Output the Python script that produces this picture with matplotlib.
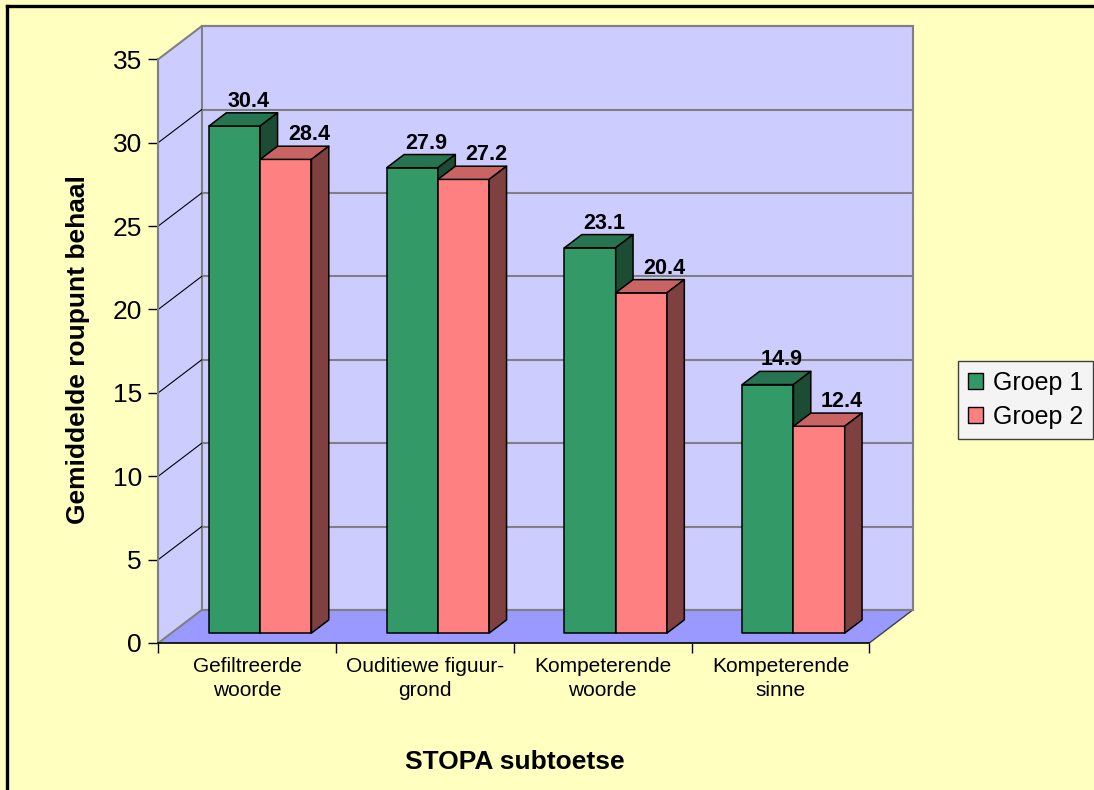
import numpy as np
import matplotlib
matplotlib.use("Agg")
import matplotlib.pyplot as plt
from matplotlib.patches import Polygon, Patch
from matplotlib.lines import Line2D

plt.rcParams["font.family"] = ["Liberation Sans", "DejaVu Sans"]

# data
categories = ["Gefiltreerde\nwoorde", "Ouditiewe figuur-\ngrond",
              "Kompeterende\nwoorde", "Kompeterende\nsinne"]
groep1 = [30.4, 27.9, 23.1, 14.9]
groep2 = [28.4, 27.2, 20.4, 12.4]
series_names = ["Groep 1", "Groep 2"]
y_ticks = [0, 5, 10, 15, 20, 25, 30, 35]
y_max = 35
x_title = "STOPA subtoetse"
y_title = "Gemiddelde roupunt behaal"

# colours: front, top, side
front_cols = ["#339966", "#FF8080"]
top_cols = ["#277550", "#C86464"]
side_cols = ["#1C4C33", "#7F4040"]
BG = "#FFFFC0"
WALL = "#CCCCFF"
FLOOR = "#9999FF"
GRID = "#808080"

W_PX, H_PX = 1094, 790
SX = 177.75            # px per category
SY = 16.68             # px per value unit
DX = 43.4 / SX         # depth offset in category units
DY = 33.0 / SY         # depth offset in value units
Z0, Z1 = 0.3, 0.7      # bar front / back depth fraction
BW = 51.25 / SX        # single bar width

n = len(categories)

fig = plt.figure(figsize=(W_PX / 100, H_PX / 100), dpi=100, facecolor=BG)
ax = fig.add_axes([158.3 / W_PX, (H_PX - 643) / H_PX,
                   (n + DX) * SX / W_PX, (y_max + DY) * SY / H_PX])
ax.set_xlim(0, n + DX)
ax.set_ylim(0, y_max + DY)
ax.patch.set_alpha(0)


def proj(x, v, z):
    return (x + z * DX, v + z * DY)


# walls and floor
side = Polygon([proj(0, 0, 0), proj(0, 0, 1), proj(0, y_max, 1), proj(0, y_max, 0)],
               closed=True, fc=WALL, ec="none", zorder=1)
back = Polygon([proj(0, 0, 1), proj(n, 0, 1), proj(n, y_max, 1), proj(0, y_max, 1)],
               closed=True, fc=WALL, ec=GRID, lw=1.5, zorder=1, clip_on=False)
floor = Polygon([proj(0, 0, 0), proj(n, 0, 0), proj(n, 0, 1), proj(0, 0, 1)],
                closed=True, fc=FLOOR, ec="none", zorder=1)
for p in (side, back, floor):
    ax.add_patch(p)

# grid lines on back wall and side wall
for v in y_ticks[1:]:
    a, b = proj(0, v, 1), proj(n, v, 1)
    ax.plot([a[0], b[0]], [a[1], b[1]], color=GRID, lw=1.5, zorder=2, clip_on=False)
    c = proj(0, v, 0)
    ax.plot([c[0], a[0]], [c[1], a[1]], color="black" if v < y_max else GRID,
            lw=0.8 if v < y_max else 1.5, zorder=2, clip_on=False)
# floor edges
a, b = proj(0, 0, 0), proj(0, 0, 1)
ax.plot([a[0], b[0]], [a[1], b[1]], color=GRID, lw=1.5, zorder=2)
a, b = proj(n, 0, 0), proj(n, 0, 1)
ax.plot([a[0], b[0]], [a[1], b[1]], color="#404040", lw=1.0, zorder=2)
a, b = proj(0, 0, 1), proj(n, 0, 1)
ax.plot([a[0], b[0]], [a[1], b[1]], color=GRID, lw=1.5, zorder=2)

# bars
label_off = [14, 23]   # px, label centre right of bar front centre
for i in range(n):
    c = i + 0.5
    for s, vals in enumerate([groep1, groep2]):
        h = vals[i]
        x0 = c - BW + s * BW
        x1 = x0 + BW
        kw = dict(closed=True, ec="black", lw=1.1, zorder=3 + i * 2 + s, joinstyle="round")
        ax.add_patch(Polygon([proj(x0, 0, Z0), proj(x1, 0, Z0), proj(x1, h, Z0), proj(x0, h, Z0)],
                             fc=front_cols[s], **kw))
        ax.add_patch(Polygon([proj(x0, h, Z0), proj(x1, h, Z0), proj(x1, h, Z1), proj(x0, h, Z1)],
                             fc=top_cols[s], **kw))
        ax.add_patch(Polygon([proj(x1, 0, Z0), proj(x1, 0, Z1), proj(x1, h, Z1), proj(x1, h, Z0)],
                             fc=side_cols[s], **kw))
        lx = (x0 + x1) / 2 + Z0 * DX + label_off[s] / SX
        ly = h + Z1 * DY + 6 / SY
        ax.text(lx, ly, f"{h:.1f}", ha="center", va="baseline", fontsize=15.5,
                fontweight="bold", zorder=20, clip_on=False)

# axes
for sp in ("top", "right"):
    ax.spines[sp].set_visible(False)
ax.spines["left"].set_bounds(0, y_max)
ax.spines["left"].set_color(GRID)
ax.spines["left"].set_linewidth(1.5)
ax.spines["bottom"].set_bounds(0, n)
ax.spines["bottom"].set_linewidth(1.2)
ax.spines["left"].set_zorder(2)
ax.set_yticks(y_ticks)
ax.set_yticklabels([str(t) for t in y_ticks], fontsize=19)
ax.set_xticks(range(n + 1))
ax.set_xticklabels([])
ax.tick_params(axis="both", direction="out", length=7.2, width=1.0, color="black", pad=4.5)

for i, lab in enumerate(categories):
    ax.text(i + 0.5, -14 / SY, lab, ha="center", va="top", fontsize=15,
            linespacing=1.3, clip_on=False)

fig.text(78 / W_PX, 1 - 350 / H_PX, y_title, rotation=90, ha="center", va="center",
         fontsize=19, fontweight="bold")
fig.text(515 / W_PX, 1 - 762 / H_PX, x_title, ha="center", va="center",
         fontsize=19, fontweight="bold")

handles = [Patch(fc=front_cols[s], ec="black", lw=1.0, label=series_names[s]) for s in range(2)]
leg = fig.legend(handles=handles, loc="center left", bbox_to_anchor=(958 / W_PX, 1 - 400 / H_PX),
                 fontsize=18, frameon=True, fancybox=False, edgecolor="#404040",
                 facecolor="#F4F4F4", framealpha=1, handlelength=0.6, handleheight=0.6,
                 handletextpad=0.4, borderpad=0.4, labelspacing=0.4, borderaxespad=0)
leg.get_frame().set_linewidth(1.0)

# chart frame (top and left edges visible)
fig.add_artist(Line2D([6.5 / W_PX, 1.0], [1 - 5.5 / H_PX] * 2, color="black", lw=2.4))
fig.add_artist(Line2D([6.5 / W_PX] * 2, [0.0, 1 - 5.5 / H_PX], color="black", lw=2.4))

fig.savefig("out.png", dpi=100, facecolor=BG)
